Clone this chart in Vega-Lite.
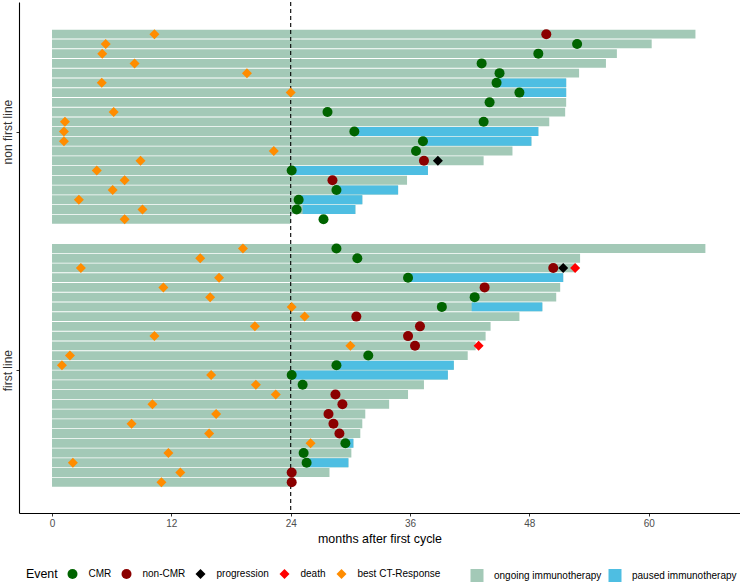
{
  "$schema": "https://vega.github.io/schema/vega-lite/v6.json",
  "width": 721,
  "height": 511,
  "autosize": {"type": "none"},
  "padding": {"left": 19, "top": 2, "right": 0, "bottom": 75},
  "config": {"font": "Liberation Sans", "view": {"stroke": null}, "axis": {"grid": false}},
  "datasets": {
    "segments": [
      {"line": "non first line", "pid": 47, "status": "ongoing immunotherapy", "start": 0, "end": 64.7},
      {"line": "non first line", "pid": 46, "status": "ongoing immunotherapy", "start": 0, "end": 60.3},
      {"line": "non first line", "pid": 45, "status": "ongoing immunotherapy", "start": 0, "end": 56.8},
      {"line": "non first line", "pid": 44, "status": "ongoing immunotherapy", "start": 0, "end": 55.7},
      {"line": "non first line", "pid": 43, "status": "ongoing immunotherapy", "start": 0, "end": 53.0},
      {"line": "non first line", "pid": 42, "status": "ongoing immunotherapy", "start": 0, "end": 51.7},
      {"line": "non first line", "pid": 41, "status": "ongoing immunotherapy", "start": 0, "end": 51.7},
      {"line": "non first line", "pid": 40, "status": "ongoing immunotherapy", "start": 0, "end": 51.7},
      {"line": "non first line", "pid": 39, "status": "ongoing immunotherapy", "start": 0, "end": 51.6},
      {"line": "non first line", "pid": 38, "status": "ongoing immunotherapy", "start": 0, "end": 50.0},
      {"line": "non first line", "pid": 37, "status": "ongoing immunotherapy", "start": 0, "end": 48.9},
      {"line": "non first line", "pid": 36, "status": "ongoing immunotherapy", "start": 0, "end": 48.2},
      {"line": "non first line", "pid": 35, "status": "ongoing immunotherapy", "start": 0, "end": 46.3},
      {"line": "non first line", "pid": 34, "status": "ongoing immunotherapy", "start": 0, "end": 43.4},
      {"line": "non first line", "pid": 33, "status": "ongoing immunotherapy", "start": 0, "end": 37.8},
      {"line": "non first line", "pid": 32, "status": "ongoing immunotherapy", "start": 0, "end": 35.7},
      {"line": "non first line", "pid": 31, "status": "ongoing immunotherapy", "start": 0, "end": 34.8},
      {"line": "non first line", "pid": 30, "status": "ongoing immunotherapy", "start": 0, "end": 31.2},
      {"line": "non first line", "pid": 29, "status": "ongoing immunotherapy", "start": 0, "end": 30.5},
      {"line": "non first line", "pid": 28, "status": "ongoing immunotherapy", "start": 0, "end": 24.0},
      {"line": "first line", "pid": 25, "status": "ongoing immunotherapy", "start": 0, "end": 65.7},
      {"line": "first line", "pid": 24, "status": "ongoing immunotherapy", "start": 0, "end": 53.1},
      {"line": "first line", "pid": 23, "status": "ongoing immunotherapy", "start": 0, "end": 52.6},
      {"line": "first line", "pid": 22, "status": "ongoing immunotherapy", "start": 0, "end": 51.4},
      {"line": "first line", "pid": 21, "status": "ongoing immunotherapy", "start": 0, "end": 51.1},
      {"line": "first line", "pid": 20, "status": "ongoing immunotherapy", "start": 0, "end": 50.7},
      {"line": "first line", "pid": 19, "status": "ongoing immunotherapy", "start": 0, "end": 49.3},
      {"line": "first line", "pid": 18, "status": "ongoing immunotherapy", "start": 0, "end": 47.0},
      {"line": "first line", "pid": 17, "status": "ongoing immunotherapy", "start": 0, "end": 44.1},
      {"line": "first line", "pid": 16, "status": "ongoing immunotherapy", "start": 0, "end": 43.6},
      {"line": "first line", "pid": 15, "status": "ongoing immunotherapy", "start": 0, "end": 42.6},
      {"line": "first line", "pid": 14, "status": "ongoing immunotherapy", "start": 0, "end": 41.8},
      {"line": "first line", "pid": 13, "status": "ongoing immunotherapy", "start": 0, "end": 40.4},
      {"line": "first line", "pid": 12, "status": "ongoing immunotherapy", "start": 0, "end": 39.8},
      {"line": "first line", "pid": 11, "status": "ongoing immunotherapy", "start": 0, "end": 37.4},
      {"line": "first line", "pid": 10, "status": "ongoing immunotherapy", "start": 0, "end": 35.8},
      {"line": "first line", "pid": 9, "status": "ongoing immunotherapy", "start": 0, "end": 33.9},
      {"line": "first line", "pid": 8, "status": "ongoing immunotherapy", "start": 0, "end": 31.5},
      {"line": "first line", "pid": 7, "status": "ongoing immunotherapy", "start": 0, "end": 31.2},
      {"line": "first line", "pid": 6, "status": "ongoing immunotherapy", "start": 0, "end": 31.0},
      {"line": "first line", "pid": 5, "status": "ongoing immunotherapy", "start": 0, "end": 30.3},
      {"line": "first line", "pid": 4, "status": "ongoing immunotherapy", "start": 0, "end": 30.1},
      {"line": "first line", "pid": 3, "status": "ongoing immunotherapy", "start": 0, "end": 29.8},
      {"line": "first line", "pid": 2, "status": "ongoing immunotherapy", "start": 0, "end": 27.9},
      {"line": "first line", "pid": 1, "status": "ongoing immunotherapy", "start": 0, "end": 24.0},
      {"line": "non first line", "pid": 42, "status": "paused immunotherapy", "start": 44.7, "end": 51.7},
      {"line": "non first line", "pid": 41, "status": "paused immunotherapy", "start": 47.0, "end": 51.7},
      {"line": "non first line", "pid": 37, "status": "paused immunotherapy", "start": 30.4, "end": 48.9},
      {"line": "non first line", "pid": 36, "status": "paused immunotherapy", "start": 37.3, "end": 48.2},
      {"line": "non first line", "pid": 33, "status": "paused immunotherapy", "start": 24.1, "end": 37.8},
      {"line": "non first line", "pid": 31, "status": "paused immunotherapy", "start": 28.6, "end": 34.8},
      {"line": "non first line", "pid": 30, "status": "paused immunotherapy", "start": 24.8, "end": 31.2},
      {"line": "non first line", "pid": 29, "status": "paused immunotherapy", "start": 25.2, "end": 30.5},
      {"line": "first line", "pid": 22, "status": "paused immunotherapy", "start": 35.8, "end": 51.4},
      {"line": "first line", "pid": 19, "status": "paused immunotherapy", "start": 42.2, "end": 49.3},
      {"line": "first line", "pid": 13, "status": "paused immunotherapy", "start": 28.6, "end": 40.4},
      {"line": "first line", "pid": 12, "status": "paused immunotherapy", "start": 24.1, "end": 39.8},
      {"line": "first line", "pid": 5, "status": "paused immunotherapy", "start": 29.5, "end": 30.3},
      {"line": "first line", "pid": 3, "status": "paused immunotherapy", "start": 25.6, "end": 29.8}
    ],
    "events": [
      {"pid": 47, "event": "best CT-Response", "month": 10.3},
      {"pid": 47, "event": "non-CMR", "month": 49.7},
      {"pid": 46, "event": "best CT-Response", "month": 5.4},
      {"pid": 46, "event": "CMR", "month": 52.8},
      {"pid": 45, "event": "best CT-Response", "month": 5.05},
      {"pid": 45, "event": "CMR", "month": 48.9},
      {"pid": 44, "event": "best CT-Response", "month": 8.3},
      {"pid": 44, "event": "CMR", "month": 43.2},
      {"pid": 43, "event": "best CT-Response", "month": 19.6},
      {"pid": 43, "event": "CMR", "month": 45.0},
      {"pid": 42, "event": "best CT-Response", "month": 5.0},
      {"pid": 42, "event": "CMR", "month": 44.7},
      {"pid": 41, "event": "best CT-Response", "month": 24.0},
      {"pid": 41, "event": "CMR", "month": 47.0},
      {"pid": 40, "event": "CMR", "month": 44.0},
      {"pid": 39, "event": "best CT-Response", "month": 6.2},
      {"pid": 39, "event": "CMR", "month": 27.7},
      {"pid": 38, "event": "best CT-Response", "month": 1.3},
      {"pid": 38, "event": "CMR", "month": 43.4},
      {"pid": 37, "event": "best CT-Response", "month": 1.2},
      {"pid": 37, "event": "CMR", "month": 30.4},
      {"pid": 36, "event": "best CT-Response", "month": 1.2},
      {"pid": 36, "event": "CMR", "month": 37.3},
      {"pid": 35, "event": "best CT-Response", "month": 22.3},
      {"pid": 35, "event": "CMR", "month": 36.6},
      {"pid": 34, "event": "best CT-Response", "month": 8.9},
      {"pid": 34, "event": "non-CMR", "month": 37.4},
      {"pid": 34, "event": "progression", "month": 38.8},
      {"pid": 33, "event": "best CT-Response", "month": 4.5},
      {"pid": 33, "event": "CMR", "month": 24.1},
      {"pid": 32, "event": "best CT-Response", "month": 7.3},
      {"pid": 32, "event": "non-CMR", "month": 28.2},
      {"pid": 31, "event": "best CT-Response", "month": 6.1},
      {"pid": 31, "event": "CMR", "month": 28.6},
      {"pid": 30, "event": "best CT-Response", "month": 2.7},
      {"pid": 30, "event": "CMR", "month": 24.8},
      {"pid": 29, "event": "best CT-Response", "month": 9.1},
      {"pid": 29, "event": "CMR", "month": 24.6},
      {"pid": 28, "event": "best CT-Response", "month": 7.3},
      {"pid": 28, "event": "CMR", "month": 27.3},
      {"pid": 25, "event": "best CT-Response", "month": 19.2},
      {"pid": 25, "event": "CMR", "month": 28.6},
      {"pid": 24, "event": "best CT-Response", "month": 14.9},
      {"pid": 24, "event": "CMR", "month": 30.7},
      {"pid": 23, "event": "best CT-Response", "month": 2.9},
      {"pid": 23, "event": "non-CMR", "month": 50.4},
      {"pid": 23, "event": "progression", "month": 51.4},
      {"pid": 23, "event": "death", "month": 52.6},
      {"pid": 22, "event": "best CT-Response", "month": 16.8},
      {"pid": 22, "event": "CMR", "month": 35.8},
      {"pid": 21, "event": "best CT-Response", "month": 11.2},
      {"pid": 21, "event": "non-CMR", "month": 43.5},
      {"pid": 20, "event": "best CT-Response", "month": 15.9},
      {"pid": 20, "event": "CMR", "month": 42.5},
      {"pid": 19, "event": "best CT-Response", "month": 24.1},
      {"pid": 19, "event": "CMR", "month": 39.2},
      {"pid": 18, "event": "best CT-Response", "month": 25.4},
      {"pid": 18, "event": "non-CMR", "month": 30.6},
      {"pid": 17, "event": "best CT-Response", "month": 20.4},
      {"pid": 17, "event": "non-CMR", "month": 37.0},
      {"pid": 16, "event": "best CT-Response", "month": 10.3},
      {"pid": 16, "event": "non-CMR", "month": 35.8},
      {"pid": 15, "event": "best CT-Response", "month": 30.0},
      {"pid": 15, "event": "non-CMR", "month": 36.5},
      {"pid": 15, "event": "death", "month": 42.9},
      {"pid": 14, "event": "best CT-Response", "month": 1.8},
      {"pid": 14, "event": "CMR", "month": 31.8},
      {"pid": 13, "event": "best CT-Response", "month": 1.0},
      {"pid": 13, "event": "CMR", "month": 28.6},
      {"pid": 12, "event": "best CT-Response", "month": 16.0},
      {"pid": 12, "event": "CMR", "month": 24.1},
      {"pid": 11, "event": "best CT-Response", "month": 20.5},
      {"pid": 11, "event": "CMR", "month": 25.2},
      {"pid": 10, "event": "best CT-Response", "month": 22.5},
      {"pid": 10, "event": "non-CMR", "month": 28.5},
      {"pid": 9, "event": "best CT-Response", "month": 10.1},
      {"pid": 9, "event": "non-CMR", "month": 29.2},
      {"pid": 8, "event": "best CT-Response", "month": 16.5},
      {"pid": 8, "event": "non-CMR", "month": 27.8},
      {"pid": 7, "event": "best CT-Response", "month": 8.0},
      {"pid": 7, "event": "non-CMR", "month": 28.3},
      {"pid": 6, "event": "best CT-Response", "month": 15.8},
      {"pid": 6, "event": "non-CMR", "month": 28.9},
      {"pid": 5, "event": "best CT-Response", "month": 26.0},
      {"pid": 5, "event": "CMR", "month": 29.5},
      {"pid": 4, "event": "best CT-Response", "month": 11.7},
      {"pid": 4, "event": "CMR", "month": 25.3},
      {"pid": 3, "event": "best CT-Response", "month": 2.1},
      {"pid": 3, "event": "CMR", "month": 25.6},
      {"pid": 2, "event": "best CT-Response", "month": 12.9},
      {"pid": 2, "event": "non-CMR", "month": 24.1},
      {"pid": 1, "event": "best CT-Response", "month": 11.0},
      {"pid": 1, "event": "non-CMR", "month": 24.1}
    ],
    "cutoff": [{"month": 24}]
  },
  "layer": [
    {
      "data": {"name": "segments"},
      "mark": {"type": "bar", "height": 8.9, "orient": "horizontal"},
      "encoding": {
        "x": {
          "field": "start", "type": "quantitative",
          "scale": {"domain": [-3.32, 69.18], "nice": false, "zero": false},
          "axis": {
            "values": [0, 12, 24, 36, 48, 60],
            "title": "months after first cycle",
            "titleFontSize": 12.4, "titleFontWeight": "normal", "titleColor": "black", "titlePadding": 4,
            "labelFontSize": 10, "labelColor": "#4d4d4d", "labelPadding": 2,
            "tickColor": "#333333", "tickSize": 3, "tickWidth": 1,
            "domainColor": "black", "domainWidth": 1.1
          }
        },
        "x2": {"field": "end"},
        "y": {
          "field": "pid", "type": "quantitative",
          "scale": {"domain": [-1.65, 49.79], "nice": false, "zero": false},
          "axis": {
            "values": [12.5, 37],
            "labelExpr": "datum.value > 20 ? 'non first line' : 'first line'",
            "title": null,
            "labelAngle": -90, "labelAlign": "center", "labelBaseline": "bottom",
            "labelFontSize": 12, "labelColor": "#333333", "labelPadding": 2,
            "tickColor": "#333333", "tickSize": 3, "tickWidth": 1,
            "domainColor": "black", "domainWidth": 1.1
          }
        },
        "fill": {
          "field": "status", "type": "nominal",
          "scale": {"domain": ["ongoing immunotherapy", "paused immunotherapy"], "range": ["#a3c9b7", "#4ebee2"]},
          "legend": {
            "title": null, "orient": "none", "legendX": 451.5, "legendY": 567,
            "direction": "horizontal", "symbolType": "square", "symbolSize": 169, "symbolStrokeWidth": 0,
            "labelFontSize": 10, "labelColor": "black", "labelOffset": 10.5, "columnPadding": 7
          }
        }
      }
    },
    {
      "data": {"name": "cutoff"},
      "mark": {"type": "rule", "strokeDash": [4, 3], "color": "black", "strokeWidth": 1.1},
      "encoding": {"x": {"field": "month", "type": "quantitative"}}
    },
    {
      "data": {"name": "events"},
      "mark": {"type": "point", "filled": true, "size": 100, "opacity": 1},
      "encoding": {
        "x": {"field": "month", "type": "quantitative"},
        "y": {"field": "pid", "type": "quantitative"},
        "color": {
          "field": "event", "type": "nominal",
          "scale": {"domain": ["CMR", "non-CMR", "progression", "death", "best CT-Response"], "range": ["#006400", "#8b0000", "#000000", "#ff0000", "#ff8c00"]},
          "legend": {
            "title": "Event", "orient": "none", "legendX": 7, "legendY": 567,
            "direction": "horizontal", "titleOrient": "left", "titleFontSize": 12.4, "titleFontWeight": "normal", "titleColor": "black", "titlePadding": 9.5,
            "symbolSize": 100, "symbolStrokeWidth": 0,
            "labelFontSize": 10, "labelColor": "black", "labelOffset": 11, "columnPadding": 10
          }
        },
        "shape": {
          "field": "event", "type": "nominal",
          "scale": {"domain": ["CMR", "non-CMR", "progression", "death", "best CT-Response"], "range": ["circle", "circle", "diamond", "diamond", "diamond"]},
          "legend": {
            "title": "Event", "orient": "none", "legendX": 7, "legendY": 567,
            "direction": "horizontal", "titleOrient": "left", "titleFontSize": 12.4, "titleFontWeight": "normal", "titleColor": "black", "titlePadding": 9.5,
            "symbolSize": 100, "symbolStrokeWidth": 0,
            "labelFontSize": 10, "labelColor": "black", "labelOffset": 11, "columnPadding": 10
          }
        }
      }
    }
  ]
}
